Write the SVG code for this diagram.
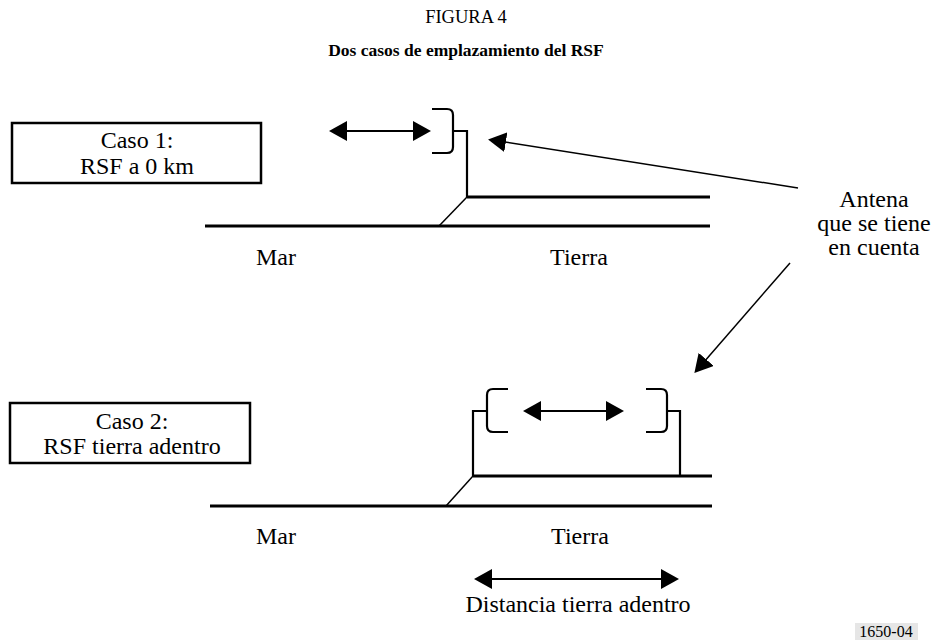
<svg xmlns="http://www.w3.org/2000/svg" width="932" height="640" viewBox="0 0 932 640">
<defs>
<style>
text{font-family:"Liberation Serif","Times New Roman",serif;fill:#000}
.t{font-size:24px;text-anchor:middle}
.h{font-size:18.5px;text-anchor:middle}
.hb{font-size:17.5px;font-weight:bold;text-anchor:middle}
.box{fill:#fff;stroke:#000;stroke-width:2.5}
.thick{fill:none;stroke:#000;stroke-width:3}
.mid{fill:none;stroke:#000;stroke-width:2.2}
.thin{fill:none;stroke:#000;stroke-width:1.5}
.dbl{stroke:#000;stroke-width:2.2;marker-start:url(#ah);marker-end:url(#ah)}
.ptr{stroke:#000;stroke-width:1.5;marker-end:url(#ah)}
</style>
<marker id="ah" markerUnits="userSpaceOnUse" viewBox="0 0 18 20" refX="14" refY="10" markerWidth="18" markerHeight="20" orient="auto-start-reverse">
<path d="M0,0 L18,10 L0,20 Z" fill="#000"/>
</marker>
</defs>
<rect width="932" height="640" fill="#fff"/>
<g id="title">
<text class="h" x="466" y="23">FIGURA 4</text>
<text class="hb" x="466" y="56">Dos casos de emplazamiento del RSF</text>
</g>
<g id="caso1">
<rect class="box" x="12" y="123" width="249" height="60"/>
<text class="t" x="137" y="148">Caso 1:</text>
<text class="t" x="137" y="174">RSF a 0 km</text>
</g>
<g id="escena1">
<path class="mid" d="M432,109 H447 Q453,109 453,115 V147 Q453,153 447,153 H432"/>
<path class="mid" d="M453,131 H467 V197"/>
<path class="thick" d="M467,197 H710"/>
<path class="thick" d="M205,226 H710"/>
<path class="thin" d="M467,197 L439,226"/>
<text class="t" x="276" y="265">Mar</text>
<text class="t" x="579" y="265">Tierra</text>
</g>
<g id="antena-label">
<text class="t" x="874" y="207">Antena</text>
<text class="t" x="874" y="231">que se tiene</text>
<text class="t" x="874" y="255">en cuenta</text>
</g>
<g id="caso2">
<rect class="box" x="10" y="403" width="240" height="60"/>
<text class="t" x="132" y="429">Caso 2:</text>
<text class="t" x="132" y="454">RSF tierra adentro</text>
</g>
<g id="escena2">
<path class="mid" d="M508,432 H493 Q487,432 487,426 V395 Q487,389 493,389 H508"/>
<path class="mid" d="M646,432 H661 Q667,432 667,426 V395 Q667,389 661,389 H646"/>
<path class="mid" d="M487,411 H473 V476"/>
<path class="mid" d="M667,411 H680 V476"/>
<path class="thick" d="M473,476 H712"/>
<path class="thick" d="M210,506 H712"/>
<path class="thin" d="M473,476 L446,506"/>
<text class="t" x="276" y="544">Mar</text>
<text class="t" x="580" y="544">Tierra</text>
<text class="t" x="578" y="612">Distancia tierra adentro</text>
</g>
<g id="connectors">
<line class="dbl" x1="333" y1="131" x2="427" y2="131"/>
<line class="dbl" x1="527" y1="411" x2="620" y2="411"/>
<line class="dbl" x1="478" y1="579" x2="675" y2="579"/>
<line class="ptr" x1="798" y1="188" x2="492" y2="140"/>
<line class="ptr" x1="790" y1="263" x2="697" y2="370"/>
</g>
<g id="ref">
<rect x="855" y="623" width="63" height="17" fill="#e6e6e6"/>
<text x="886" y="637" style="font-size:16px;text-anchor:middle">1650-04</text>
</g>
</svg>
